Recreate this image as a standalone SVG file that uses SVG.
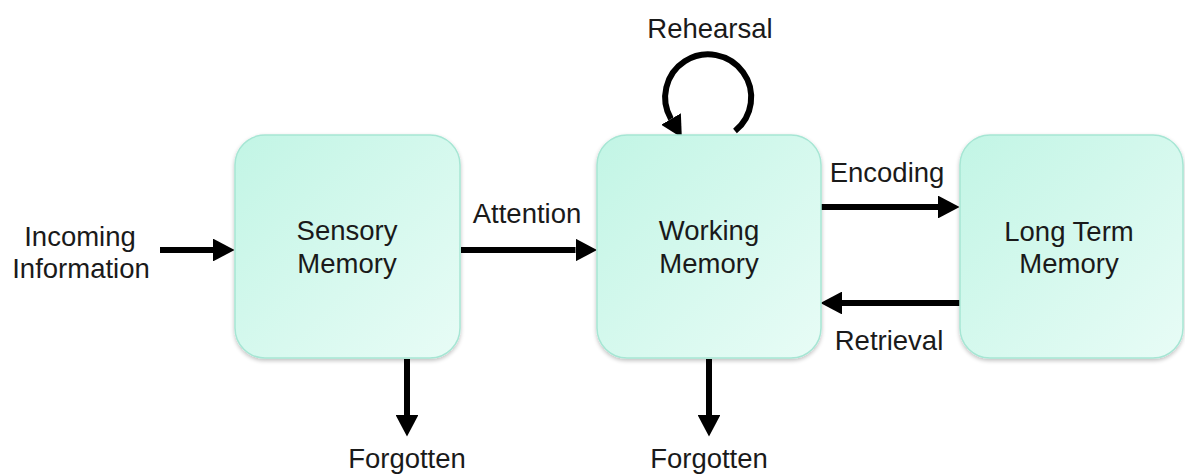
<svg xmlns="http://www.w3.org/2000/svg" width="1185" height="475" viewBox="0 0 1185 475">
<defs>
<linearGradient id="g" x1="0" y1="0" x2="1" y2="1">
<stop offset="0" stop-color="#c2f5e5"/>
<stop offset="1" stop-color="#e8fcf6"/>
</linearGradient>
<filter id="sh" x="-10%" y="-10%" width="120%" height="120%">
<feGaussianBlur in="SourceAlpha" stdDeviation="2"/>
<feOffset dx="0" dy="2"/>
<feComponentTransfer><feFuncA type="linear" slope="0.25"/></feComponentTransfer>
<feMerge><feMergeNode/><feMergeNode in="SourceGraphic"/></feMerge>
</filter>
<marker id="ah" markerWidth="3.6" markerHeight="3.8" refX="0" refY="1.9" orient="auto" markerUnits="strokeWidth">
<path d="M0,0 L3.6,1.9 L0,3.8 Z" fill="#000"/>
</marker>
</defs>
<style>
.box{fill:url(#g);stroke:#a6e6d4;stroke-width:1.5;filter:url(#sh)}
.t{font-family:"Liberation Sans",Arial,sans-serif;font-size:27.5px;fill:#1a1a1a;text-anchor:middle}
.c{stroke:#000;stroke-width:6;fill:none;marker-end:url(#ah)}
</style>
<rect width="1185" height="475" fill="#fff"/>
<g id="connectors">
<line class="c" x1="160" y1="250" x2="213" y2="250"/>
<line class="c" x1="461" y1="250" x2="575.5" y2="250"/>
<line class="c" x1="821" y1="207" x2="938" y2="207"/>
<line class="c" x1="960" y1="303" x2="842" y2="303"/>
<line class="c" x1="407" y1="359" x2="407" y2="415"/>
<line class="c" x1="709" y1="359" x2="709" y2="415"/>
<path class="c" d="M 735 131 A 43 43 0 1 0 671 119"/>
<text class="t" x="80" y="246">Incoming</text>
<text class="t" x="81" y="278">Information</text>
<text class="t" x="527" y="223">Attention</text>
<text class="t" x="887" y="182">Encoding</text>
<text class="t" x="889" y="350">Retrieval</text>
<text class="t" x="710" y="38">Rehearsal</text>
<text class="t" x="407" y="468">Forgotten</text>
<text class="t" x="709" y="468">Forgotten</text>
</g>
<g id="sensory">
<rect class="box" x="235" y="135" width="225" height="223" rx="30"/>
<text class="t" x="347" y="240">Sensory</text>
<text class="t" x="347" y="273">Memory</text>
</g>
<g id="working">
<rect class="box" x="597" y="135" width="224" height="223" rx="30"/>
<text class="t" x="709" y="240">Working</text>
<text class="t" x="709" y="273">Memory</text>
</g>
<g id="longterm">
<rect class="box" x="960" y="135" width="223" height="223" rx="30"/>
<text class="t" x="1069" y="241">Long Term</text>
<text class="t" x="1069" y="273">Memory</text>
</g>
</svg>
